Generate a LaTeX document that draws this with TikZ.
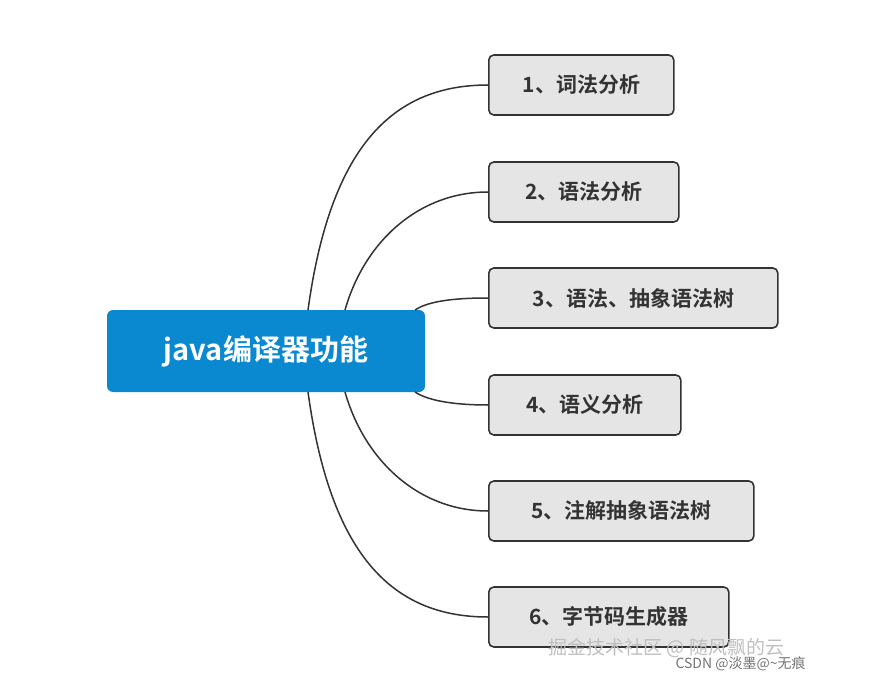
\documentclass[tikz,border=0pt]{standalone}
\usepackage{fontspec}
\setmainfont{Noto Sans CJK SC}
\newfontfamily\cjkb{Noto Sans CJK SC Bold}
\begin{document}
\begin{tikzpicture}[x=1pt,y=-1pt,
  leaf/.style={draw=black!80,line width=1.6pt,fill=black!10,rounded corners=5pt,minimum height=60pt,anchor=west,inner xsep=24pt,font=\cjkb\fontsize{21}{21}\selectfont,text=black!80},
  link/.style={draw=black!80,line width=1.5pt}]
\useasboundingbox (0,0) rectangle (877,684);
\node[fill={rgb,255:red,10;green,136;blue,208},rounded corners=6pt,minimum width=318pt,minimum height=82pt,text=white,font=\cjkb\fontsize{29}{29}\selectfont] (c) at (266,351) {java编译器功能};
\node[leaf,minimum width=185pt] (b1) at (488,85) {1、词法分析};
\node[leaf,minimum width=190pt] (b2) at (488,192) {2、语法分析};
\node[leaf,minimum width=289pt] (b3) at (488,298) {3、语法、抽象语法树};
\node[leaf,minimum width=192pt] (b4) at (488,405) {4、语义分析};
\node[leaf,minimum width=265pt] (b5) at (488,511) {5、注解抽象语法树};
\node[leaf,minimum width=240pt] (b6) at (488,617) {6、字节码生成器};
\coordinate (t1) at (308,310); \coordinate (t2) at (345,310); \coordinate (t3) at (415,310);
\coordinate (u1) at (308,392); \coordinate (u2) at (345,392); \coordinate (u3) at (415,392);
\draw[link] (t1) .. controls (330,150) and (390,85) .. (b1.west);
\draw[link] (t2) .. controls (365,240) and (420,192) .. (b2.west);
\draw[link] (t3) .. controls (430,300) and (460,298) .. (b3.west);
\draw[link] (u3) .. controls (430,402) and (460,405) .. (b4.west);
\draw[link] (u2) .. controls (365,462) and (420,511) .. (b5.west);
\draw[link] (u1) .. controls (330,552) and (390,617) .. (b6.west);
\node[anchor=west,text=black!25,font=\fontsize{19}{19}\selectfont] (w1) at (545,648) {掘金技术社区 @ 随风飘的云};
\node[anchor=west,text=black!55,font=\fontsize{14}{14}\selectfont] (w2) at (672,664) {CSDN @淡墨@\textasciitilde 无痕};
\end{tikzpicture}
\end{document}
